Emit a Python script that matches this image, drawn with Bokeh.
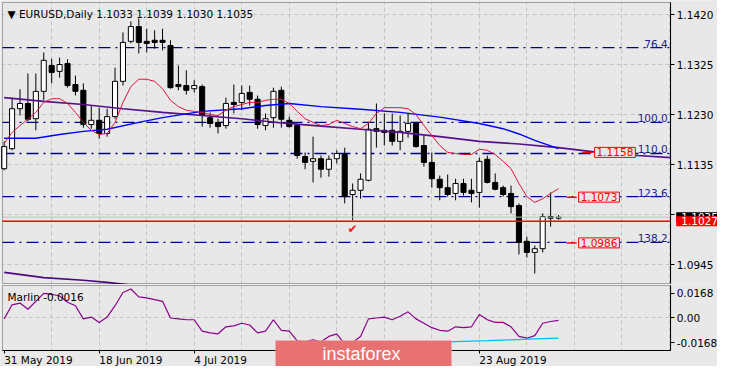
from bokeh.plotting import figure
from bokeh.layouts import column
from bokeh.models import (Range1d, FixedTicker, Grid, Label, BoxAnnotation, ColumnDataSource,
                          LinearAxis)
from bokeh.core.properties import value
from bokeh.embed import file_html
from bokeh.resources import INLINE

# ---------------- data ----------------
bars = list(range(71))
opens = [1.1127, 1.1165, 1.1241, 1.1251, 1.1222, 1.1274, 1.1323, 1.1312, 1.1327, 1.1287,
         1.1276, 1.1211, 1.1219, 1.1194, 1.1226, 1.1293, 1.1369, 1.1397, 1.1369, 1.1371,
         1.1371, 1.1361, 1.1287, 1.1285, 1.1279, 1.1283, 1.1224, 1.1215, 1.1209, 1.1253,
         1.1253, 1.1272, 1.1259, 1.1209, 1.1224, 1.1276, 1.1219, 1.1209, 1.1150, 1.1141,
         1.1146, 1.1126, 1.1146, 1.1154, 1.1078, 1.1086, 1.1105, 1.1203, 1.1200, 1.1200,
         1.1179, 1.1198, 1.1213, 1.1171, 1.1139, 1.1107, 1.1091, 1.1080, 1.1099, 1.1086,
         1.1082, 1.1145, 1.1101, 1.1091, 1.1080, 1.1057, 1.0989, 1.0968, 1.0975, 1.1036,
         1.1033]
highs = [1.1179, 1.1262, 1.1278, 1.1308, 1.1308, 1.1348, 1.1336, 1.1338, 1.1335, 1.1304,
         1.1289, 1.1247, 1.1243, 1.1241, 1.1319, 1.1386, 1.1407, 1.1412, 1.1393, 1.1390,
         1.1393, 1.1371, 1.1323, 1.1314, 1.1295, 1.1287, 1.1234, 1.1222, 1.1262, 1.1287,
         1.1285, 1.1285, 1.1266, 1.1232, 1.1281, 1.1283, 1.1226, 1.1213, 1.1158, 1.1188,
         1.1152, 1.1152, 1.1162, 1.1167, 1.1099, 1.1118, 1.1215, 1.1251, 1.1232, 1.1232,
         1.1228, 1.1232, 1.1215, 1.1190, 1.1158, 1.1114, 1.1116, 1.1108, 1.1108, 1.1108,
         1.1148, 1.1152, 1.1118, 1.1095, 1.1095, 1.1061, 1.0998, 1.0981, 1.1042, 1.1082,
         1.1039]
lows = [1.1124, 1.1162, 1.1228, 1.1217, 1.1200, 1.1257, 1.1289, 1.1300, 1.1281, 1.1266,
        1.1205, 1.1203, 1.1184, 1.1188, 1.1222, 1.1285, 1.1365, 1.1346, 1.1348, 1.1355,
        1.1352, 1.1279, 1.1276, 1.1268, 1.1272, 1.1207, 1.1205, 1.1194, 1.1203, 1.1232,
        1.1238, 1.1247, 1.1203, 1.1200, 1.1205, 1.1205, 1.1205, 1.1146, 1.1126, 1.1101,
        1.1110, 1.1112, 1.1137, 1.1061, 1.1029, 1.1070, 1.1103, 1.1167, 1.1171, 1.1171,
        1.1162, 1.1186, 1.1167, 1.1131, 1.1091, 1.1067, 1.1074, 1.1067, 1.1076, 1.1063,
        1.1053, 1.1099, 1.1086, 1.1074, 1.1042, 1.0964, 1.0958, 1.0928, 1.0968, 1.1017,
        1.1030]
closes = [1.1169, 1.1241, 1.1251, 1.1221, 1.1274, 1.1333, 1.1310, 1.1325, 1.1285, 1.1274,
          1.1211, 1.1219, 1.1194, 1.1226, 1.1293, 1.1367, 1.1397, 1.1367, 1.1365, 1.1367,
          1.1367, 1.1281, 1.1283, 1.1276, 1.1285, 1.1228, 1.1213, 1.1207, 1.1251, 1.1249,
          1.1270, 1.1259, 1.1211, 1.1222, 1.1274, 1.1221, 1.1207, 1.1152, 1.1139, 1.1146,
          1.1126, 1.1145, 1.1156, 1.1074, 1.1086, 1.1107, 1.1202, 1.1198, 1.1196, 1.1179,
          1.1198, 1.1213, 1.1169, 1.1139, 1.1108, 1.1091, 1.1078, 1.1099, 1.1082, 1.1080,
          1.1141, 1.1101, 1.1088, 1.1078, 1.1055, 1.0987, 1.0968, 1.0975, 1.1036, 1.1033,
          1.1035]

red_ma = [1.1175, 1.1196, 1.1209, 1.1221, 1.1234, 1.1253, 1.1260, 1.1260, 1.1251, 1.1234,
          1.1215, 1.1200, 1.1192, 1.1194, 1.1215, 1.1253, 1.1283, 1.1297, 1.1297, 1.1293,
          1.1279, 1.1257, 1.1245, 1.1238, 1.1236, 1.1234, 1.1230, 1.1228, 1.1238, 1.1245,
          1.1249, 1.1253, 1.1253, 1.1257, 1.1259, 1.1259, 1.1251, 1.1236, 1.1222, 1.1215,
          1.1209, 1.1211, 1.1219, 1.1213, 1.1207, 1.1203, 1.1213, 1.1232, 1.1243, 1.1243,
          1.1243, 1.1241, 1.1230, 1.1209, 1.1190, 1.1171, 1.1158, 1.1156, 1.1154, 1.1154,
          1.1164, 1.1162, 1.1154, 1.1141, 1.1127, 1.1099, 1.1074, 1.1063, 1.1070, 1.1080,
          1.1089]

blue_idx = [0, 4, 7, 10, 13, 17, 20, 25, 30, 33, 36, 40, 45, 50, 55, 60, 63, 65, 67, 70]
blue_ma = [1.1185, 1.1185, 1.1192, 1.1198, 1.1202, 1.1215, 1.1224, 1.1236, 1.1241, 1.1247,
           1.1251, 1.1245, 1.1240, 1.1234, 1.1225, 1.1213, 1.1203, 1.1193, 1.1181, 1.1165]

purple_idx = [0, 5, 10, 15, 20, 25, 30, 35, 40, 45, 50, 55, 60, 65, 70, 75, 80, 84.15]
purple_ma = [1.1262, 1.1255, 1.1249, 1.1241, 1.1234, 1.1228, 1.1222, 1.1214, 1.1208, 1.1202,
             1.1196, 1.1188, 1.1179, 1.1174, 1.1167, 1.1158, 1.1152, 1.1148]

slow_idx = [0, 5, 10, 13, 16]
slow_ma = [1.0930, 1.0920, 1.0915, 1.0911, 1.0906]

fib_levels = [1.1357, 1.1215, 1.1156, 1.1074, 1.0987]
fib_labels = ["76.4", "100.0", "110.0", "123.6", "138.2"]

box_prices = [1.1158, 1.1073, 1.0986]
support_line = 1.1027
bid_price = 1.1035
check_bar = 44
check_price = 1.1013

price_ticks = [1.0945, 1.1040, 1.1135, 1.1230, 1.1325, 1.1420]
price_tick_labels = ["1.0945", "", "1.1135", "1.1230", "1.1325", "1.1420"]

date_ticks = [0, 12, 24, 60]
date_labels = ["31 May 2019", "18 Jun 2019", "4 Jul 2019", "23 Aug 2019"]
grid_bars = list(range(6, 85, 6))

marlin = [-0.0006, 0.0090, 0.0102, 0.0060, 0.0114, 0.0168, 0.0162, 0.0150, 0.0108, 0.0084,
          -0.0006, 0.0006, -0.0030, 0.0006, 0.0084, 0.0174, 0.0198, 0.0144, 0.0138, 0.0126,
          0.0114, 0.0000, -0.0006, -0.0012, -0.0012, -0.0090, -0.0102, -0.0108, -0.0060, -0.0054,
          -0.0036, -0.0048, -0.0102, -0.0090, -0.0012, -0.0084, -0.0090, -0.0156, -0.0162, -0.0150,
          -0.0162, -0.0126, -0.0108, -0.0180, -0.0168, -0.0126, -0.0006, 0.0000, 0.0006, -0.0012,
          0.0012, 0.0042, -0.0006, -0.0036, -0.0066, -0.0084, -0.0090, -0.0060, -0.0066, -0.0060,
          0.0024, -0.0012, -0.0030, -0.0030, -0.0060, -0.0126, -0.0138, -0.0120, -0.0036, -0.0024,
          -0.0016]
signal_idx = [55, 58, 61, 64, 67, 70]
signal = [-0.0165, -0.0160, -0.0155, -0.0149, -0.0143, -0.0138]
marlin_ticks = [-0.0168, 0.0, 0.0168]
marlin_tick_labels = ["-0.0168", "0.00", "0.0168"]

# ---------------- layout / styling ----------------
BG = "#e8e8e8"
FONT = "DejaVu Sans"
FS = "10.5px"
GRID = "#c4c4c4"
W = 717
MAIN_H = 284
SUB_H = 82
XR = Range1d(-0.4625, 90.07)             # whole canvas width in bar units
CHART_LEFT, CHART_RIGHT = -0.2125, 84.16  # chart frame edges (bar units)
MAIN_BOTTOM, MAIN_TOP = 1.09089, 1.14428
SUB_BOTTOM, SUB_TOP = -0.0222, 0.0222
AXIS_PX = 670.2                           # screen x of the price axis line
# half widths (in bars) of the left-aligned date labels
date_label_half = [4.32, 3.99, 3.33, 4.24]


def style_price_axis(ax):
    ax.major_tick_out = 4
    ax.major_tick_in = 0
    ax.minor_tick_line_color = None
    ax.axis_line_color = "black"
    ax.major_tick_line_color = "black"
    ax.major_label_standoff = 2
    ax.major_label_text_font = FONT
    ax.major_label_text_font_size = FS
    ax.major_label_text_color = "black"


def covers(fig, top, bottom):
    for kw in (dict(left=CHART_RIGHT), dict(right=CHART_LEFT), dict(bottom=top), dict(top=bottom)):
        fig.add_layout(BoxAnnotation(fill_color=BG, fill_alpha=1.0, line_alpha=0.0,
                                     level="underlay", **kw))


# ================= main price chart =================
p = figure(width=W, height=MAIN_H, x_range=XR, y_range=Range1d(1.0907, 1.14466),
           output_backend="svg", toolbar_location=None, tools="",
           x_axis_location=None, y_axis_location="right", min_border=0,
           background_fill_color=BG, border_fill_color=BG, outline_line_color=None)

ya = p.yaxis[0]
ya.ticker = FixedTicker(ticks=price_ticks)
ya.major_label_overrides = dict(zip(price_ticks, price_tick_labels))
ya.fixed_location = CHART_RIGHT
ya.bounds = (MAIN_BOTTOM, MAIN_TOP)
style_price_axis(ya)

p.ygrid.grid_line_color = GRID
p.ygrid.grid_line_dash = "4 3"
p.add_layout(Grid(dimension=0, ticker=FixedTicker(ticks=grid_bars),
                  grid_line_color=GRID, grid_line_dash="4 3"))
covers(p, MAIN_TOP, MAIN_BOTTOM)

n_fib = len(fib_levels)
p.segment(x0=[CHART_LEFT] * n_fib, x1=[CHART_RIGHT] * n_fib, y0=fib_levels, y1=fib_levels,
          line_color="#00008b", line_width=1.4, line_dash="12 5 2 5")

p.line(slow_idx, slow_ma, line_color="#4b0a82", line_width=1.6)

# candles
wick_src = ColumnDataSource(dict(x=bars, lo=lows, hi=highs))
p.segment(x0="x", y0="lo", x1="x", y1="hi", source=wick_src, line_color="black", line_width=1)
up = [i for i in bars if closes[i] >= opens[i]]
dn = [i for i in bars if closes[i] < opens[i]]
p.vbar(x=up, width=0.64, top=[closes[i] for i in up], bottom=[opens[i] for i in up],
       fill_color="white", line_color="black", line_width=1)
p.vbar(x=dn, width=0.64, top=[opens[i] for i in dn], bottom=[closes[i] for i in dn],
       fill_color="black", line_color="black", line_width=1)

# moving averages
p.line(purple_idx, purple_ma, line_color="#55108c", line_width=1.6)
p.line(blue_idx, blue_ma, line_color="#0000ff", line_width=1.4)
p.line(bars, red_ma, line_color="#e0143c", line_width=1)

# horizontal price lines
p.segment(x0=[CHART_LEFT], x1=[CHART_RIGHT], y0=[bid_price], y1=[bid_price],
          line_color="#c0c0c0", line_width=1)
p.segment(x0=[CHART_LEFT], x1=[CHART_RIGHT], y0=[support_line], y1=[support_line],
          line_color="#ff0000", line_width=1.5)

# check mark
p.text(x=[check_bar], y=[check_price], text=["\u2714"], text_color="#f02020",
       text_font=value(FONT), text_font_size="12px", text_align="center", text_baseline="middle")

# chart border
p.add_layout(BoxAnnotation(left=CHART_LEFT, right=CHART_RIGHT, bottom=MAIN_BOTTOM, top=MAIN_TOP,
                           fill_alpha=0.0, line_color="black", line_width=1))

# fibo texts
for lv, lb in zip(fib_levels, fib_labels):
    p.add_layout(Label(x=AXIS_PX - 3, y=lv, x_units="screen", y_units="data", text=lb,
                       text_align="right", text_baseline="bottom", text_color="#1c1c8c",
                       text_font=FONT, text_font_size=FS))

# red price boxes with leader segments
box_x0 = [73.0, 71.03, 71.03]
box_x1 = [74.29, 72.28, 72.28]
p.segment(x0=box_x0, y0=box_prices, x1=box_x1, y1=box_prices, line_color="#ff0000", line_width=1.5)
for bx, bp in zip(box_x1, box_prices):
    p.add_layout(Label(x=bx + 0.26, y=bp, x_units="data", y_units="data", text=f"{bp:.4f}",
                       text_align="left", text_baseline="middle", text_color="#ff0000",
                       text_font=FONT, text_font_size=FS,
                       background_fill_color=BG, border_line_color="#ff0000", border_line_width=1,
                       padding=dict(left=2, right=2, top=1, bottom=1)))

# right-axis price tags
for price, col in ((bid_price, "black"), (support_line, "#ff0000")):
    p.add_layout(Label(x=AXIS_PX + 5.5, y=price, x_units="screen", y_units="data",
                       text=f"{price:.4f}",
                       text_align="left", text_baseline="middle", text_color="white",
                       text_font=FONT, text_font_size=FS, background_fill_color=col,
                       padding=dict(left=5, right=2, top=1, bottom=1)))

# title
title_txt = "\u25bc  EURUSD,Daily  " + " ".join(
    f"{v:.4f}" for v in (opens[-1], highs[-1], lows[-1], closes[-1]))
p.add_layout(Label(x=7, y=MAIN_H - 7, x_units="screen", y_units="screen", text=title_txt,
                   text_align="left", text_baseline="top", text_color="black",
                   text_font=FONT, text_font_size=FS))

# ================= indicator panel =================
p2 = figure(width=W, height=SUB_H, x_range=XR, y_range=Range1d(-0.03313, 0.02288),
            output_backend="svg", toolbar_location=None, tools="",
            y_axis_location="right", min_border=0,
            background_fill_color=BG, border_fill_color=BG, outline_line_color=None)

ya2 = p2.yaxis[0]
ya2.ticker = FixedTicker(ticks=marlin_ticks)
ya2.major_label_overrides = dict(zip(marlin_ticks, marlin_tick_labels))
ya2.fixed_location = CHART_RIGHT
ya2.bounds = (SUB_BOTTOM, SUB_TOP)
style_price_axis(ya2)

# date axis: tick marks at the bars, labels start at the tick (left aligned)
xa = p2.xaxis[0]
xa.ticker = FixedTicker(ticks=date_ticks)
xa.fixed_location = SUB_BOTTOM
xa.bounds = (CHART_LEFT, CHART_RIGHT)
xa.major_tick_out = 3
xa.major_tick_in = 0
xa.minor_tick_line_color = None
xa.axis_line_color = "black"
xa.major_label_text_color = None

label_pos = [t + h for t, h in zip(date_ticks, date_label_half)]
xb = LinearAxis(ticker=FixedTicker(ticks=label_pos),
                major_label_overrides=dict(zip(label_pos, date_labels)),
                fixed_location=SUB_BOTTOM, axis_line_color=None,
                major_tick_line_color=None, minor_tick_line_color=None,
                major_tick_out=3, major_tick_in=0, major_label_standoff=1,
                major_label_text_font=FONT, major_label_text_font_size=FS,
                major_label_text_color="black")
p2.add_layout(xb, "below")

p2.xgrid.visible = False
p2.ygrid.visible = False
p2.add_layout(Grid(dimension=0, ticker=FixedTicker(ticks=grid_bars),
                   grid_line_color=GRID, grid_line_dash="4 3"))
p2.add_layout(Grid(dimension=1, ticker=FixedTicker(ticks=[0.0]),
                   grid_line_color=GRID, grid_line_dash="4 3"))
covers(p2, SUB_TOP, SUB_BOTTOM)

p2.line(bars, marlin, line_color="#8b008b", line_width=1.2)
p2.line(signal_idx, signal, line_color="#00bfff", line_width=1.2)

p2.add_layout(BoxAnnotation(left=CHART_LEFT, right=CHART_RIGHT, bottom=SUB_BOTTOM, top=SUB_TOP,
                            fill_alpha=0.0, line_color="black", line_width=1))

p2.add_layout(Label(x=7, y=SUB_H - 6, x_units="screen", y_units="screen", text="Marlin -0.0016",
                    text_align="left", text_baseline="top", text_color="black",
                    text_font=FONT, text_font_size=FS))

# watermark
p2.add_layout(BoxAnnotation(left=275, right=451, bottom=0, top=26,
                            left_units="screen", right_units="screen",
                            bottom_units="screen", top_units="screen",
                            fill_color="#e87272", fill_alpha=1.0,
                            line_color="#f3b8b8", line_width=1))
p2.add_layout(Label(x=322, y=13, x_units="screen", y_units="screen", text="instaforex",
                    text_align="left", text_baseline="middle", text_color="white",
                    text_font="Liberation Sans", text_font_size="18px"))

layout = column(p, p2)
open("out.html", "w").write(file_html(layout, INLINE))
